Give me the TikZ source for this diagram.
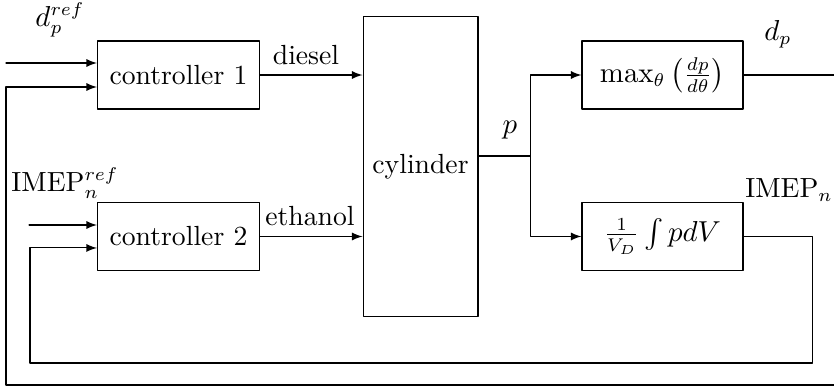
\documentclass[tikz,border=0pt]{standalone}
\usepackage{amsmath}
\usetikzlibrary{arrows}

\begin{document}
\begin{tikzpicture}[line cap=round,line join=round,>=latex,x=1.0cm,y=1.0cm,
		every node/.style={font=\fontsize{10.5}{12.6}\selectfont},
		block/.style={draw,line width=0.4pt,minimum width=2.16cm,minimum height=0.907cm,inner sep=0pt},
		wire/.style={line width=0.4pt}]
		\clip(0,0) rectangle (11.12,5.173);
		\node[block] (ctrl1) at (2.38,4.173) {controller 1};
		\node[block] (ctrl2) at (2.38,2.02) {controller 2};
		\node[block,minimum width=1.533cm,minimum height=4.0cm] (cyl) at (5.607,2.947) {cylinder};
		\node[block,minimum width=2.147cm] (maxbox) at (8.833,4.173) {$\max_\theta\left(\frac{dp}{d\theta}\right)$};
		\node[block,minimum width=2.147cm] (intbox) at (8.833,2.02) {$\frac{1}{V_D}\int pdV$};
		\coordinate (ref1) at (0.08,4.333);
		\coordinate (fb1) at (0.08,4.013);
		\coordinate (ref2) at (0.387,2.173);
		\coordinate (fb2) at (0.4,1.867);
		\coordinate (branch) at (7.067,3.093);
		\coordinate (outer) at (11.4,0.04);
		\coordinate (inner) at (10.827,0.333);
		\draw [wire,->] (ref1) -- (ref1 -| ctrl1.west);
		\draw [wire,->] (ref2) -- (ref2 -| ctrl2.west);
		\draw [wire,->] (ctrl1.east) -- (ctrl1.east -| cyl.west);
		\draw [wire,->] (ctrl2.east) -- (ctrl2.east -| cyl.west);
		\draw [wire] (cyl.east |- branch) -- (branch);
		\draw [wire,->] (branch) |- (maxbox.west);
		\draw [wire,->] (branch) |- (intbox.west);
		\draw [wire,->] (maxbox.east) -| (outer) -| (fb1) -- (fb1 -| ctrl1.west);
		\draw [wire,->] (intbox.east) -| (inner) -| (fb2) -- (fb2 -| ctrl2.west);
		\node[inner sep=1pt] (lref1) at (0.8,4.91) {$d_p^{ref}$};
		\node[inner sep=1pt] (lref2) at (0.867,2.733) {IMEP$_n^{ref}$};
		\node (ldiesel) at (4.08,4.44) {diesel};
		\node (lethanol) at (4.133,2.293) {ethanol};
		\node (lp) at (6.8,3.44) {$p$};
		\node (ldp) at (10.373,4.72) {$d_p$};
		\node (limep) at (10.52,2.64) {IMEP$_n$};
	\end{tikzpicture}
\end{document}
